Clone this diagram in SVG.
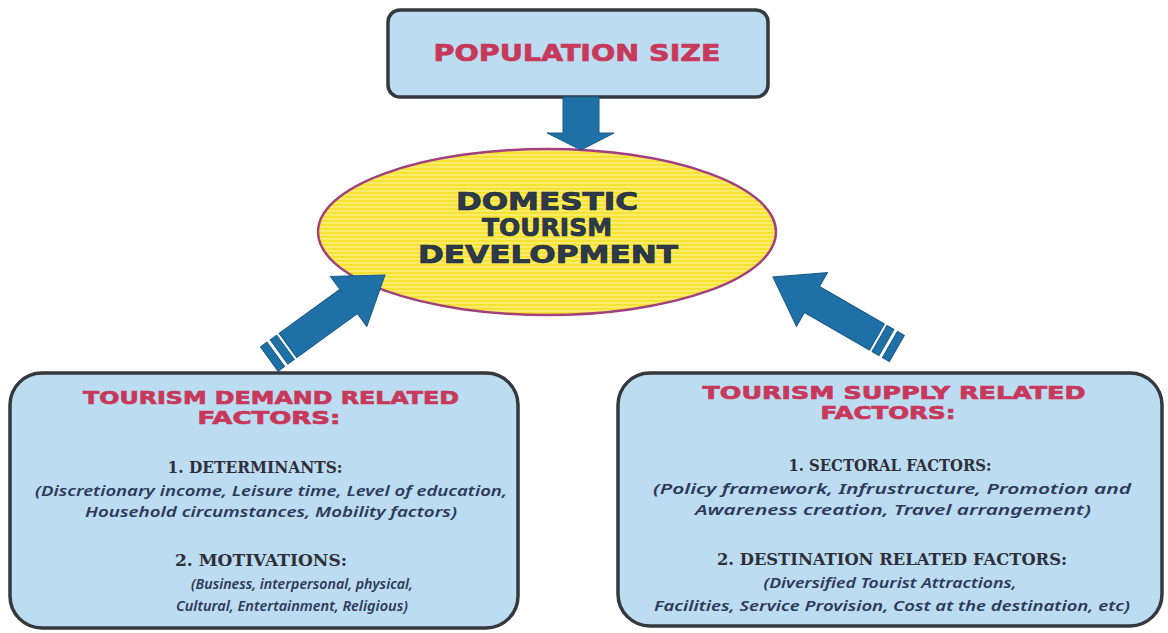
<svg xmlns="http://www.w3.org/2000/svg" width="1168" height="633" viewBox="0 0 1168 633">
  <defs>
    <pattern id="stripes" width="8" height="4" patternUnits="userSpaceOnUse">
      <rect width="8" height="4" fill="#f5e330"/>
      <rect y="2.2" width="8" height="1.4" fill="#faf08a"/>
    </pattern>
    <!-- block arrow, tip at origin, pointing along +x -->
    <g id="bigArrow">
      <polygon points="0,0 -45,-31 -45,-15 -120,-15 -120,15 -45,15 -45,31"/>
      <rect x="-131" y="-15" width="8" height="30"/>
      <rect x="-143" y="-15" width="8" height="30"/>
    </g>
  </defs>
  <style>
    .box { fill: #bcdcf2; stroke: #35393e; stroke-width: 3.5; }
    .arrow { fill: #1f70a6; stroke: #185a88; stroke-width: 1; }
    .head { font-family: "DejaVu Sans", "Liberation Sans", sans-serif; font-weight: bold; fill: #c8385a; stroke: #c8385a; stroke-width: 0.7; text-anchor: middle; }
    .core { font-family: "DejaVu Sans", "Liberation Sans", sans-serif; font-weight: bold; fill: #2c3a4c; stroke: #1e2a38; stroke-width: 0.7; text-anchor: middle; font-size: 24px; }
    .sub { font-family: "DejaVu Serif", "Liberation Serif", serif; font-weight: bold; fill: #2e2f38; text-anchor: middle; font-size: 16px; }
    .it { font-family: "Noto Sans", "DejaVu Sans", sans-serif; font-style: italic; font-weight: 600; fill: #2d3958; text-anchor: middle; font-size: 15px; }
  </style>

  <rect width="1168" height="633" fill="#ffffff"/>

  <!-- top node -->
  <g id="population-size">
    <rect class="box" x="388" y="10" width="380" height="87" rx="12"/>
    <text class="head" x="577" y="61" font-size="23" textLength="287" lengthAdjust="spacingAndGlyphs">POPULATION SIZE</text>
  </g>

  <!-- central node -->
  <g id="domestic-tourism">
    <ellipse cx="547" cy="232" rx="229" ry="83" fill="url(#stripes)" stroke="#a2407e" stroke-width="2.5"/>
    <text class="core" x="547" y="210" textLength="182" lengthAdjust="spacingAndGlyphs">DOMESTIC</text>
    <text class="core" x="547" y="236" textLength="130" lengthAdjust="spacingAndGlyphs">TOURISM</text>
    <text class="core" x="548" y="263" textLength="260" lengthAdjust="spacingAndGlyphs">DEVELOPMENT</text>
  </g>

  <!-- connectors, drawn over the ellipse edge -->
  <g id="connectors" class="arrow">
    <polygon points="563,97 599,97 599,133 614,133 581,150 547,133 563,133"/>
    <use href="#bigArrow" transform="translate(385,275) rotate(-36)"/>
    <use href="#bigArrow" transform="translate(773,277) rotate(-150)"/>
  </g>

  <!-- demand node -->
  <g id="demand-factors">
    <rect class="box" x="10" y="373" width="508" height="255" rx="32"/>
    <text class="head" x="271" y="404" font-size="18" textLength="376" lengthAdjust="spacingAndGlyphs">TOURISM DEMAND RELATED</text>
    <text class="head" x="269" y="424" font-size="18" textLength="143" lengthAdjust="spacingAndGlyphs">FACTORS:</text>
    <text class="sub" x="255" y="473" textLength="175" lengthAdjust="spacingAndGlyphs">1. DETERMINANTS:</text>
    <text class="it" x="271" y="496" textLength="472" lengthAdjust="spacingAndGlyphs">(Discretionary income, Leisure time, Level of education,</text>
    <text class="it" x="271" y="517" textLength="372" lengthAdjust="spacingAndGlyphs">Household circumstances, Mobility factors)</text>
    <text class="sub" x="261" y="566" textLength="172" lengthAdjust="spacingAndGlyphs">2. MOTIVATIONS:</text>
    <text class="it" x="302" y="589" textLength="222" lengthAdjust="spacingAndGlyphs">(Business, interpersonal, physical,</text>
    <text class="it" x="292" y="611" textLength="232" lengthAdjust="spacingAndGlyphs">Cultural, Entertainment, Religious)</text>
  </g>

  <!-- supply node -->
  <g id="supply-factors">
    <rect class="box" x="618" y="373" width="544" height="253" rx="32"/>
    <text class="head" x="894" y="399" font-size="18" textLength="383" lengthAdjust="spacingAndGlyphs">TOURISM  SUPPLY RELATED</text>
    <text class="head" x="888" y="419" font-size="18" textLength="135" lengthAdjust="spacingAndGlyphs">FACTORS:</text>
    <text class="sub" x="890" y="471" textLength="203" lengthAdjust="spacingAndGlyphs">1. SECTORAL FACTORS:</text>
    <text class="it" x="892" y="494" textLength="478" lengthAdjust="spacingAndGlyphs">(Policy framework, Infrustructure, Promotion and</text>
    <text class="it" x="893" y="515" textLength="396" lengthAdjust="spacingAndGlyphs">Awareness creation, Travel  arrangement)</text>
    <text class="sub" x="892" y="565" textLength="350" lengthAdjust="spacingAndGlyphs">2. DESTINATION RELATED FACTORS:</text>
    <text class="it" x="890" y="588" textLength="253" lengthAdjust="spacingAndGlyphs">(Diversified Tourist Attractions,</text>
    <text class="it" x="892" y="611" textLength="476" lengthAdjust="spacingAndGlyphs">Facilities, Service Provision, Cost at the destination, etc)</text>
  </g>
</svg>
